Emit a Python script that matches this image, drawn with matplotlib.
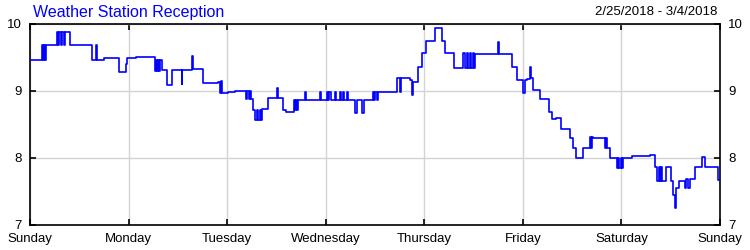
import numpy as np
import matplotlib
matplotlib.use("Agg")
import matplotlib.pyplot as plt

# hours since Sunday 00:00 and reception level
hours = [0.0, 3.0, 3.2, 3.4, 3.6, 3.8, 6.5, 6.9, 7.1, 7.5, 7.8, 8.3, 8.6, 9.8,
         15.0, 16.1, 16.4, 18.0, 21.7, 23.3, 23.6, 25.8, 30.4, 30.6, 30.9, 31.1,
         31.5, 31.7, 32.1, 33.4, 34.5, 36.9, 37.1, 39.4, 39.7, 42.2, 45.8, 46.3,
         46.5, 46.8, 48.2, 49.8, 52.6, 52.9, 53.2, 53.5, 53.8, 54.3, 54.8, 55.3,
         55.6, 56.0, 56.2, 56.4, 58.0, 60.1, 60.4, 61.7, 62.3, 64.3, 64.5, 64.8,
         65.0, 65.3, 67.0, 67.3, 70.6, 70.9, 72.4, 72.6, 72.9, 73.2, 74.3, 74.6,
         75.5, 75.8, 76.1, 76.4, 77.1, 77.4, 79.1, 79.6, 80.8, 81.3, 83.5, 83.8,
         84.1, 84.4, 84.7, 89.3, 90.0, 90.3, 92.4, 92.9, 93.3, 94.5, 95.4, 96.4,
         98.6, 100.2, 101.0, 103.3, 105.5, 105.8, 106.3, 106.6, 107.1, 107.4,
         107.8, 108.1, 108.4, 114.0, 114.3, 117.3, 118.5, 120.1, 120.4, 121.0,
         121.7, 122.0, 122.5, 124.2, 126.4, 127.0, 128.1, 129.2, 131.5, 132.3,
         133.0, 134.7, 136.4, 136.6, 136.9, 137.1, 140.0, 140.3, 140.6, 141.2,
         142.9, 143.2, 143.5, 143.9, 144.1, 144.5, 146.5, 151.0, 152.2, 152.6,
         153.2, 153.5, 153.7, 153.8, 154.9, 156.0, 156.6, 157.0, 157.4, 158.1,
         159.5, 159.8, 160.3, 160.6, 161.8, 163.5, 164.4, 167.4, 168.0]

levels = [9.47, 9.68, 9.47, 9.68, 9.47, 9.68, 9.88, 9.68, 9.88, 9.68, 9.88, 9.68, 9.88, 9.68,
          9.46, 9.68, 9.47, 9.49, 9.28, 9.40, 9.49, 9.51, 9.30, 9.46, 9.30, 9.46,
          9.30, 9.46, 9.31, 9.09, 9.31, 9.11, 9.32, 9.52, 9.33, 9.12, 9.14, 8.97,
          9.15, 8.97, 8.99, 9.00, 8.88, 9.00, 8.88, 9.00, 8.88, 8.72, 8.56, 8.72,
          8.56, 8.72, 8.56, 8.73, 8.89, 9.04, 8.89, 8.71, 8.68, 8.86, 8.71, 8.86,
          8.71, 8.86, 8.99, 8.86, 8.99, 8.86, 8.99, 8.86, 8.99, 8.86, 8.99, 8.86,
          8.99, 8.86, 8.99, 8.86, 8.99, 8.86, 8.67, 8.86, 8.67, 8.86, 8.99, 8.86,
          8.99, 8.86, 8.99, 9.19, 8.99, 9.19, 9.16, 8.94, 9.14, 9.36, 9.56, 9.74,
          9.94, 9.74, 9.56, 9.34, 9.56, 9.34, 9.56, 9.34, 9.56, 9.34,
          9.56, 9.34, 9.55, 9.73, 9.55, 9.36, 9.16, 8.97, 9.16, 9.18,
          9.36, 9.19, 9.01, 8.88, 8.69, 8.58, 8.59, 8.44, 8.30, 8.15,
          8.00, 8.15, 8.31, 8.15, 8.31, 8.30, 8.15, 8.30, 8.15, 8.00,
          7.85, 8.00, 7.85, 8.00, 7.85, 8.00, 8.03, 8.04, 7.86, 7.66,
          7.86, 7.66, 7.86, 7.66, 7.86, 7.66, 7.45, 7.25, 7.55, 7.66,
          7.55, 7.68, 7.55, 7.68, 7.86, 8.02, 7.86, 7.67, 7.67]

day_names = ["Sunday", "Monday", "Tuesday", "Wednesday", "Thursday",
             "Friday", "Saturday", "Sunday"]
y_ticks = [7, 8, 9, 10]

title_text = "Weather Station Reception"
date_range = "2/25/2018 - 3/4/2018"

plt.rcParams['font.family'] = ['Liberation Sans', 'DejaVu Sans']

fig = plt.figure(figsize=(7.5, 2.5), dpi=100)
ax = fig.add_axes([30 / 750, 25 / 250, 690 / 750, 201 / 250])

# the reception trace
ax.step(hours, levels, where='post', color='#0000ff', linewidth=1.2, zorder=3)

ax.set_xlim(0, 168)
ax.set_ylim(7, 10)
ax.set_xticks(np.arange(0, 169, 24))
ax.set_xticklabels(day_names)
ax.set_yticks(y_ticks)

ax.grid(True, color='#d3d3d3', linewidth=1.0)
ax.set_axisbelow(True)

for side in ['left', 'right', 'top', 'bottom']:
    ax.spines[side].set_linewidth(1.2)
    ax.spines[side].set_color('black')

ax.tick_params(axis='both', direction='in', length=4, width=1.2,
               top=True, right=True, labelright=True, labelsize=9.5,
               colors='black')
ax.tick_params(axis='x', pad=6)
ax.tick_params(axis='y', pad=6)

fig.text(33 / 750, 1 - 12 / 250, title_text, color='#0000ff', fontsize=11.5,
         ha='left', va='center')
fig.text(717 / 750, 1 - 12 / 250, date_range, color='black', fontsize=9.5,
         ha='right', va='center')

fig.savefig("out.png", dpi=100)
